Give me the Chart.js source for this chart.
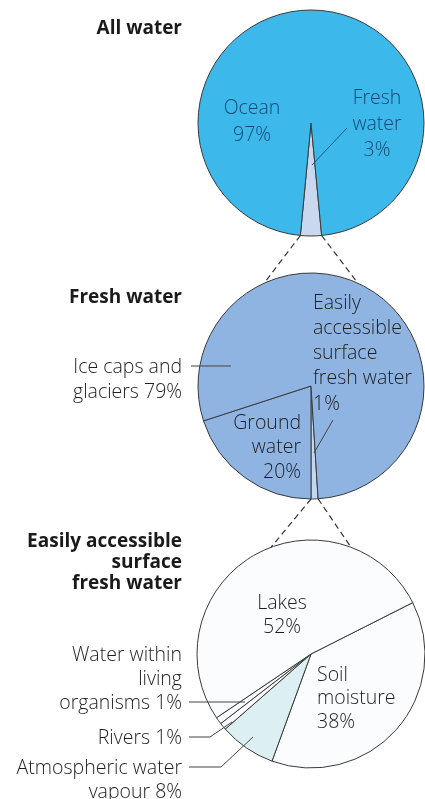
<!DOCTYPE html>
<html>
<head>
<meta charset="utf-8">
<script src="https://cdn.jsdelivr.net/npm/chart.js@4.4.1/dist/chart.umd.min.js"></script>
<style>
  html, body { margin: 0; padding: 0; background: #fff; }
  #wrap { position: relative; width: 425px; height: 799px; overflow: hidden; }
  #wrap canvas { position: absolute; left: 0; top: 0; }
</style>
</head>
<body>
<div id="wrap">
  <canvas id="pieAll" width="425" height="799"></canvas>
  <canvas id="pieFresh" width="425" height="799"></canvas>
  <canvas id="pieSurface" width="425" height="799"></canvas>
</div>
<script>
// --- data ---
const chartTitles = [['All water'], ['Fresh water'], ['Easily accessible', 'surface', 'fresh water']];

const allWaterLabels = ['Fresh water', 'Ocean'];
const allWaterValues = [3, 97];

const freshLabels = ['Easily accessible surface fresh water', 'Ground water', 'Ice caps and glaciers'];
const freshValues = [1, 20, 79];

const surfaceLabels = ['Soil moisture', 'Atmospheric water vapour', 'Rivers', 'Water within living organisms', 'Lakes'];
const surfaceValues = [38, 8, 1, 1, 52];

// --- layout ---
const W = 425, H = 799;
const LABEL_FONT = '300 19.5px "Open Sans", sans-serif';
const TITLE_FONT = 'bold 19px "Open Sans", sans-serif';

// padding that puts the pie centre at (cx, cy)
function padFor(cx, cy, r) {
  return { left: cx - r, right: W - (cx + r), top: cy - r, bottom: H - (cy + r) };
}

// text blocks and leader lines drawn next to each pie
function drawNotes(ctx, notes) {
  notes.forEach(n => {
    ctx.save();
    if (n.leader) {
      ctx.strokeStyle = n.lineColor || '#444';
      ctx.lineWidth = 1;
      ctx.beginPath();
      n.leader.forEach((p, i) => i ? ctx.lineTo(p[0], p[1]) : ctx.moveTo(p[0], p[1]));
      ctx.stroke();
    }
    ctx.font = n.font || LABEL_FONT;
    ctx.fillStyle = n.color || '#1e1e1e';
    ctx.textAlign = n.align || 'center';
    ctx.textBaseline = 'middle';
    n.lines.forEach((t, i) => ctx.fillText(t, n.x, n.y + i * (n.lh || 24)));
    ctx.restore();
  });
}

const notesPlugin = {
  id: 'notes',
  afterDraw(chart, args, opts) {
    drawNotes(chart.ctx, opts.items || []);
    if (opts.after) opts.after(chart);
  }
};

function pieChart(id, labels, values, colors, cx, cy, r, rotation, notes, after) {
  return new Chart(document.getElementById(id), {
    type: 'pie',
    data: {
      labels: labels,
      datasets: [{
        data: values,
        backgroundColor: colors,
        borderColor: '#3a3a3a',
        borderWidth: 1
      }]
    },
    options: {
      responsive: false,
      animation: false,
      events: [],
      rotation: rotation,
      radius: r,
      layout: { padding: padFor(cx, cy, r) },
      plugins: {
        legend: { display: false },
        tooltip: { enabled: false },
        notes: { items: notes, after: after }
      }
    },
    plugins: [notesPlugin]
  });
}

// point on a pie's rim, angle in degrees clockwise from top
function rimPoint(chart, deg) {
  const arc = chart.getDatasetMeta(0).data[0];
  const a = (deg - 90) * Math.PI / 180;
  return [arc.x + arc.outerRadius * Math.cos(a), arc.y + arc.outerRadius * Math.sin(a)];
}

// ends of a slice on the rim
function sliceEnds(chart, index) {
  const arc = chart.getDatasetMeta(0).data[index];
  return [arc.startAngle, arc.endAngle].map(a =>
    [arc.x + arc.outerRadius * Math.cos(a), arc.y + arc.outerRadius * Math.sin(a)]);
}

const pct = v => v + '%';
const titleNote = (lines, y) => ({ lines, x: 182, y, align: 'right', font: TITLE_FONT, color: '#1a1a1a', lh: 21 });

const chartAll = pieChart('pieAll', allWaterLabels, allWaterValues,
  ['#c9d8ee', '#3db8ea'], 311, 123, 113, 180 - allWaterValues[0] * 1.8, [
    titleNote(chartTitles[0], 29),
    { lines: ['Ocean', pct(allWaterValues[1])], x: 252, y: 108, lh: 27, color: '#0f4b74' },
    { lines: ['Fresh', 'water', pct(allWaterValues[0])], x: 377, y: 98, lh: 26, color: '#0f4b74',
      leader: [[347, 128], [312, 165]], lineColor: '#175a83' }
  ]);

const chartFresh = pieChart('pieFresh', freshLabels, freshValues,
  ['#c3d7ef', '#8fb4e1', '#8fb4e1'], 311, 386, 113, 180 - freshValues[0] * 3.6, [
    titleNote(chartTitles[1], 298),
    { lines: ['Ice caps and', 'glaciers ' + pct(freshValues[2])], x: 182, y: 367, lh: 25, align: 'right',
      leader: [[191, 366], [231, 366]] },
    { lines: ['Easily', 'accessible', 'surface', 'fresh water', pct(freshValues[0])], x: 313, y: 303, lh: 25.3, align: 'left',
      leader: [[333, 420], [314, 453]] },
    { lines: ['Ground', 'water', pct(freshValues[1])], x: 301, y: 423, lh: 24.5, align: 'right' }
  ]);

const chartSurface = pieChart('pieSurface', surfaceLabels, surfaceValues,
  ['#fbfcfd', '#dcf0f4', '#fbfcfd', '#fbfcfd', '#fbfcfd'], 311, 654, 114, 63.2, [
    titleNote(chartTitles[2], 542),
    { lines: ['Lakes', pct(surfaceValues[4])], x: 282, y: 603, lh: 24 },
    { lines: ['Soil', 'moisture', pct(surfaceValues[0])], x: 317, y: 675, lh: 23.5, align: 'left' },
    { lines: ['Water within', 'living', 'organisms ' + pct(surfaceValues[3])], x: 182, y: 655, lh: 24, align: 'right',
      leader: [[189, 702], [245, 702]] },
    { lines: ['Rivers ' + pct(surfaceValues[2])], x: 182, y: 738, align: 'right',
      leader: [[189, 737], [210, 737], [232, 722]] },
    { lines: ['Atmospheric water', 'vapour ' + pct(surfaceValues[1])], x: 182, y: 768, lh: 24, align: 'right',
      leader: [[189, 767], [221, 767], [253, 737]] }
  ], drawConnectors);

// dashed zoom lines: slice of one pie opens onto the next pie
function drawConnectors(chart) {
  const ctx = chart.ctx;
  const pairs = [
    [sliceEnds(chartAll, 0), [rimPoint(chartFresh, 24.5), rimPoint(chartFresh, -24.5)]],
    [sliceEnds(chartFresh, 0), [rimPoint(chart, 20.5), rimPoint(chart, -20.5)]]
  ];
  ctx.save();
  ctx.strokeStyle = '#333';
  ctx.lineWidth = 1.2;
  ctx.setLineDash([6, 4]);
  pairs.forEach(([from, to]) => {
    from.forEach((p, i) => {
      ctx.beginPath();
      ctx.moveTo(p[0], p[1]);
      ctx.lineTo(to[i][0], to[i][1]);
      ctx.stroke();
    });
  });
  ctx.restore();
}
chartSurface.draw();
</script>
</body>
</html>
